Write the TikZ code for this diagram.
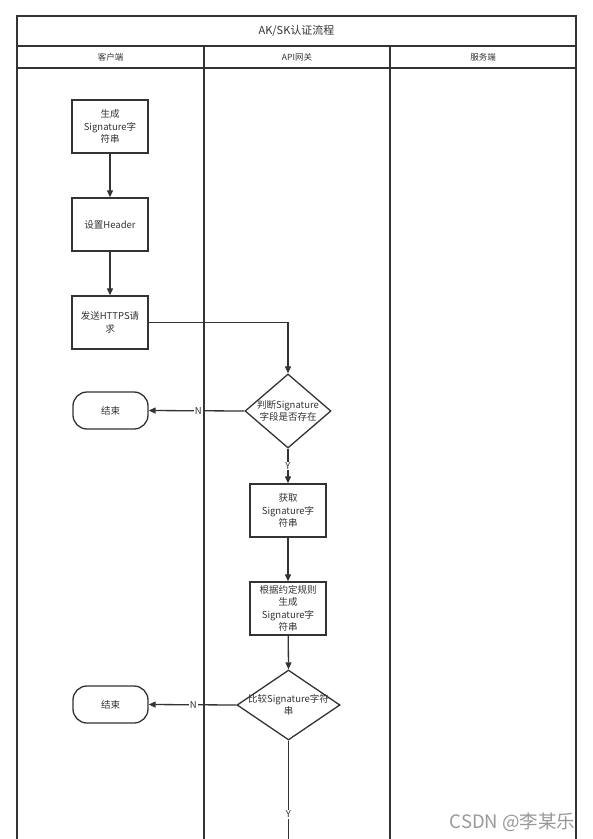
\documentclass[tikz,border=0pt]{standalone}
\usepackage{fontspec}
\setmainfont{Noto Sans CJK SC}
\usetikzlibrary{arrows.meta,shapes.geometric}
\definecolor{ln}{HTML}{333333}
\tikzset{
  lane/.style={draw=ln,line width=1.1pt},
  proc/.style={draw=ln,line width=1.4pt,minimum width=76pt,minimum height=53pt,align=center,font=\fontsize{9.5}{12.5}\selectfont,inner sep=1pt,text=ln},
  dec/.style={draw=ln,line width=1.3pt,diamond,aspect=1.16,minimum width=86pt,minimum height=74pt,align=center,font=\fontsize{9.5}{12}\selectfont,inner sep=0pt,text=ln},
  term/.style={draw=ln,line width=1.3pt,rounded corners=14pt,minimum width=75pt,minimum height=37pt,font=\fontsize{9.5}{12}\selectfont,text=ln},
  flow/.style={draw=ln,line width=1.3pt,-{Triangle[length=7pt,width=6pt]}},
  lbl/.style={fill=white,inner sep=1pt,font=\fontsize{9.5}{11}\selectfont,text=ln},
  hdr/.style={font=\fontsize{8.5}{10}\selectfont,text=ln},
}
\begin{document}
\begin{tikzpicture}[x=1pt,y=-1pt]
\useasboundingbox[fill=white] (0,0) rectangle (593,839);
% pool
\draw[lane] (17,839) -- (17,16) -- (576,16) -- (576,839);
\draw[lane] (17,46) -- (576,46);
\draw[lane] (17,68) -- (576,68);
\draw[lane] (204,46) -- (204,839);
\draw[lane] (390,46) -- (390,839);
\node[font=\fontsize{11}{13}\selectfont,text=ln] (title) at (296.5,31) {AK/SK认证流程};
\node[hdr] (h1) at (110.5,57) {客户端};
\node[hdr] (h2) at (297,57) {API网关};
\node[hdr] (h3) at (483,57) {服务端};
% nodes
\node[proc] (b1) at (110,126.5) {生成\\Signature字\\符串};
\node[proc] (b2) at (110,224.5) {设置Header};
\node[proc] (b3) at (110,322.5) {发送HTTPS请\\求};
\node[dec] (d1) at (288,411) {判断Signature\\字段是否存在};
\node[term] (e1) at (110.5,410.5) {结束};
\node[proc] (b4) at (288,510.5) {获取\\Signature字\\符串};
\node[proc] (b5) at (288,608.5) {根据约定规则\\生成\\Signature字\\符串};
\node[dec,minimum width=103pt,minimum height=70pt,aspect=1.47,inner sep=-8pt] (d2) at (288.5,705) {比较Signature字符\\串};
\node[term] (e2) at (110.5,704.5) {结束};
\coordinate (bot) at (288.5,839);
% connectors
\draw[flow] (b1) -- (b2);
\draw[flow] (b2) -- (b3);
\draw[flow] (b3.east) -| (d1.north);
\draw[flow] (d1.west) -- node[lbl,pos=0.48]{N} (e1.east);
\draw[flow] (d1.south) -- node[lbl,pos=0.5]{Y} (b4.north);
\draw[flow] (b4) -- (b5);
\draw[flow] (b5) -- (d2.north);
\draw[flow] (d2.west) -- node[lbl,pos=0.49]{N} (e2.east);
\draw[draw=ln,line width=1.3pt] (d2.south) -- node[lbl,pos=0.75]{Y} (bot);
% watermark
\node[anchor=east,font=\fontsize{18.5}{20}\selectfont,text=black!40] (wm) at (579,822) {CSDN @李某乐};
\end{tikzpicture}
\end{document}
